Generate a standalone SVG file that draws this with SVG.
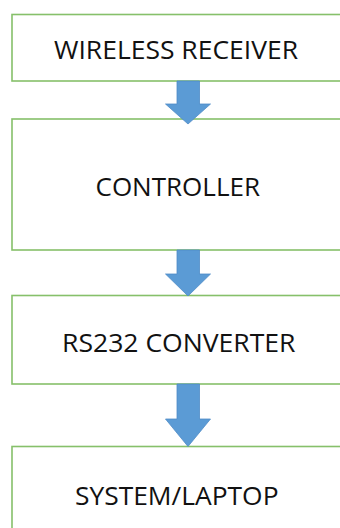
<svg xmlns="http://www.w3.org/2000/svg" width="340" height="528" viewBox="0 0 340 528">
  <style>
    .box { fill: #ffffff; stroke: #86c06a; stroke-width: 1.6; }
    .label { font-family: "Open Sans", "Liberation Sans", sans-serif; font-size: 26px; fill: #111111; }
    .arrow { fill: #5b9bd5; stroke: #4f8cc6; stroke-width: 0.8; stroke-linejoin: miter; }
  </style>
  <rect width="340" height="528" fill="#ffffff"/>

  <g id="wireless-receiver">
    <rect class="box" x="12" y="14.5" width="340" height="66.5"/>
    <text class="label" x="54" y="59" textLength="244" lengthAdjust="spacingAndGlyphs">WIRELESS RECEIVER</text>
  </g>

  <g id="controller">
    <rect class="box" x="12" y="119" width="340" height="131"/>
    <text class="label" x="95.5" y="196" textLength="164.5" lengthAdjust="spacingAndGlyphs">CONTROLLER</text>
  </g>

  <g id="rs232-converter">
    <rect class="box" x="12" y="295.5" width="340" height="88.5"/>
    <text class="label" x="62" y="352" textLength="233.5" lengthAdjust="spacingAndGlyphs">RS232 CONVERTER</text>
  </g>

  <g id="system-laptop">
    <rect class="box" x="12" y="446.5" width="340" height="100"/>
    <text class="label" x="75" y="505" textLength="203.5" lengthAdjust="spacingAndGlyphs">SYSTEM/LAPTOP</text>
  </g>

  <g id="connectors">
    <path class="arrow" d="M177 81 H199.5 V104 H210.5 L188 124 L165.5 104 H177 Z"/>
    <path class="arrow" d="M177 250 H199.5 V274 H210.5 L188 296 L165.5 274 H177 Z"/>
    <path class="arrow" d="M177 384 H199.5 V419 H210.5 L188 446.5 L165.5 419 H177 Z"/>
  </g>
</svg>
